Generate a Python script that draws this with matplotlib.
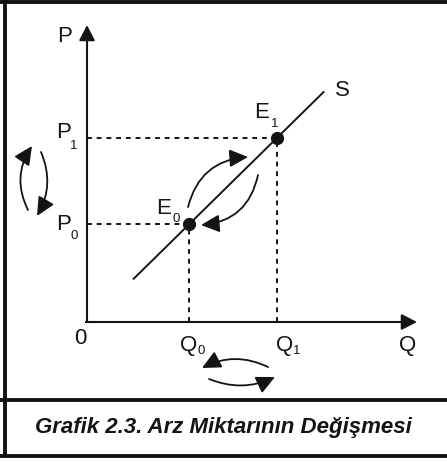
import matplotlib
matplotlib.use("Agg")
import matplotlib.pyplot as plt
import matplotlib.transforms as mtransforms
from matplotlib.patches import FancyArrowPatch
from matplotlib.lines import Line2D

W, H, DPI = 447, 462, 100
INK = "#141414"
FONT = "Liberation Sans"

# Equilibrium quantities and prices on the supply curve
q_points = [3.5, 6.5]          # Q0, Q1
p_points = [3.35, 6.3]         # P0, P1
point_names = ["0", "1"]
# Supply curve S drawn between these quantities
supply_q = [1.6, 8.1]
axis_q_max = 11.3
axis_p_max = 10.17
caption = "Grafik 2.3. Arz Miktarının Değişmesi"

slope = (p_points[1] - p_points[0]) / (q_points[1] - q_points[0])
supply_p = [p_points[0] + slope * (q - q_points[0]) for q in supply_q]

# Layout: origin of the diagram and size of one unit, in pixels
ORIGIN_X, ORIGIN_Y, UNIT = 87, 322, 29.2

fig = plt.figure(figsize=(W / DPI, H / DPI), dpi=DPI)
ax = fig.add_axes([0, 0, 1, 1])
ax.set_xlim(-ORIGIN_X / UNIT, (W - ORIGIN_X) / UNIT)
ax.set_ylim(-(H - ORIGIN_Y) / UNIT, ORIGIN_Y / UNIT)
ax.axis("off")

# pixel-space transform for frame, labels and curved arrows
pix = mtransforms.Affine2D().scale(1 / W, -1 / H).translate(0, 1) + fig.transFigure

# Frame around the figure and caption box
frame = [((0, 1.5), (W, 1.5)), ((5, 0), (5, 457)), ((0, 400), (W, 400)), ((0, 455.5), (W, 455.5))]
for (x0, y0), (x1, y1) in frame:
    fig.add_artist(Line2D([x0, x1], [y0, y1], transform=pix, color=INK, lw=2.8,
                          solid_capstyle="butt"))

# Axes with arrow heads
head = "-|>,head_length=0.62,head_width=0.32"
ax.annotate("", xy=(0, axis_p_max), xytext=(0, 0),
            arrowprops=dict(arrowstyle=head, lw=1.5, color=INK, mutation_scale=15,
                            shrinkA=0, shrinkB=0))
ax.annotate("", xy=(axis_q_max, 0), xytext=(0, 0),
            arrowprops=dict(arrowstyle=head, lw=1.5, color=INK, mutation_scale=15,
                            shrinkA=0, shrinkB=0))
ax.plot([-0.02, 0.02], [0, 0], color=INK, lw=1.5, solid_capstyle="projecting")

# Supply curve
ax.plot(supply_q, supply_p, color=INK, lw=1.4)

# Guide lines and equilibrium points
for q, p in zip(q_points, p_points):
    ax.plot([0, q], [p, p], color=INK, lw=1.4, dashes=(2.5, 2.5))
    ax.plot([q, q], [0, p], color=INK, lw=1.4, dashes=(2.5, 2.5))
ax.plot(q_points, p_points, "o", color=INK, ms=8.5)


def label(x, y, main, sub=None, sx=0, sy=0, size=16, subsize=9.5):
    ax.text(x, y, main, transform=pix, ha="center", va="center", fontsize=size,
            family=FONT, color=INK)
    if sub is not None:
        ax.text(sx, sy, sub, transform=pix, ha="center", va="center",
                fontsize=subsize, family=FONT, color=INK)


label(65, 36, "P")
label(408, 346, "Q")
label(342, 90, "S")
label(80, 338, "0")
label(64, 132, "P", point_names[1], 73.5, 146)
label(64, 224, "P", point_names[0], 74.5, 236)
label(164, 208, "E", point_names[0], 176.5, 219)
label(262, 113, "E", point_names[1], 274.5, 124)
label(188.5, 346, "Q", point_names[0], 201.5, 351)
label(284.5, 346, "Q", point_names[1], 297, 351)

# Curved arrows showing the movement along the curve
curved = [
    ((28, 210), (32, 146), -0.29),
    ((41, 152), (37, 216), -0.25),
    ((188, 207), (248, 157), -0.36),
    ((258, 175), (201, 225), -0.37),
    ((268, 367), (202, 368), 0.25),
    ((209, 379), (275, 377), 0.22),
]
for start, end, rad in curved:
    fig.add_artist(FancyArrowPatch(start, end, transform=pix,
                                   connectionstyle=f"arc3,rad={rad}",
                                   arrowstyle="-|>,head_length=0.75,head_width=0.36",
                                   mutation_scale=15, lw=1.3, color=INK,
                                   shrinkA=0, shrinkB=0))

# Caption
fig.text(223 / W, 1 - 427 / H, caption, ha="center", va="center", fontsize=16,
         family=FONT, weight="bold", style="italic", color=INK)

fig.savefig("out.png", dpi=DPI, facecolor="white")
